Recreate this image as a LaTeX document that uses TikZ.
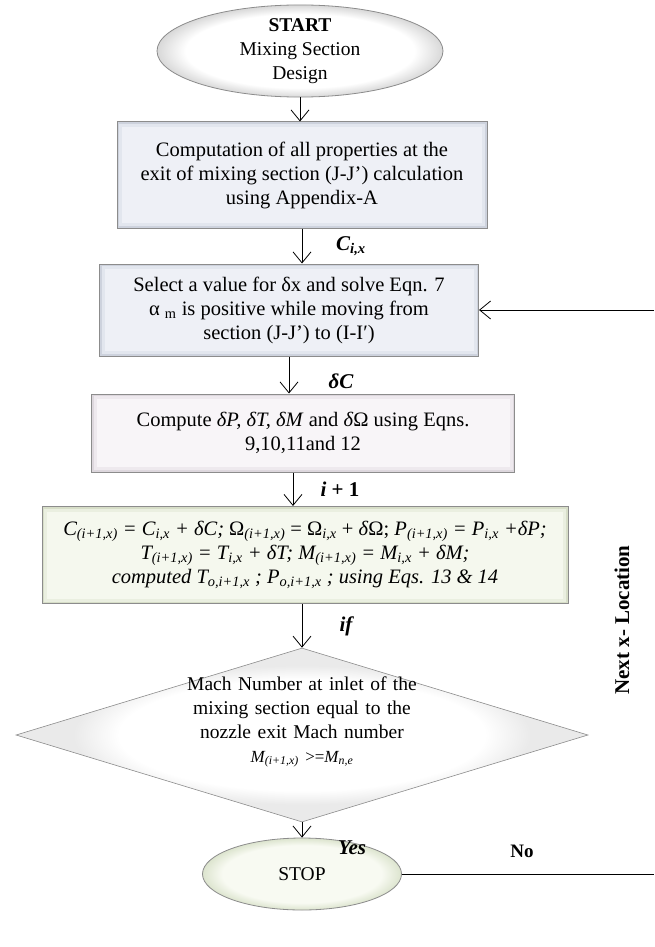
\documentclass[tikz,border=0pt]{standalone}
\usepackage{fontspec}
\setmainfont{Liberation Serif}
\usetikzlibrary{shapes.geometric,arrows.meta}
\definecolor{bluein}{HTML}{EEF0F6}
\definecolor{bluemid}{HTML}{E2E6EE}
\definecolor{blueedge}{HTML}{CDD2DD}
\definecolor{pinkin}{HTML}{F8F5F8}
\definecolor{pinkmid}{HTML}{EEE9EE}
\definecolor{pinkedge}{HTML}{DDD7DD}
\definecolor{greenin}{HTML}{F5F8EE}
\definecolor{greenmid}{HTML}{EAEFE0}
\definecolor{greenedge}{HTML}{D7DEC8}
\definecolor{stopin}{HTML}{F8FAF2}
\definecolor{stopout}{HTML}{DCE4CE}
\definecolor{startout}{HTML}{D8D8D8}
\definecolor{diaedge}{HTML}{EAEAEA}
\definecolor{linegray}{HTML}{8C8C8C}
\pgfdeclareradialshading{startshade}{\pgfpointorigin}{color(0bp)=(white); color(20bp)=(white); color(25bp)=(startout); color(50bp)=(startout)}
\pgfdeclareradialshading{stopshade}{\pgfpointorigin}{color(0bp)=(stopin); color(20bp)=(stopin); color(25bp)=(stopout); color(50bp)=(stopout)}
\pgfdeclareradialshading{diashade}{\pgfpointorigin}{color(0bp)=(white); color(16bp)=(white); color(20bp)=(diaedge); color(50bp)=(diaedge)}
\newcommand{\sbi}[1]{\textsubscript{\itshape #1}}
\newcommand{\bsb}[1]{\textsubscript{\bfseries\itshape #1}}
\tikzset{
  txt/.style={font=\fontsize{20.5}{24}\selectfont, align=center},
  smalltxt/.style={font=\fontsize{19.5}{24}\selectfont, align=center},
  procbox/.style={txt, rectangle, draw=linegray, line width=1pt, inner sep=2pt},
  bevel/.style n args={3}{fill=#1, path picture={
      \fill[#2] ([shift={(2pt,-2pt)}]path picture bounding box.north west) rectangle ([shift={(-2pt,2pt)}]path picture bounding box.south east);
      \fill[#3] ([shift={(5pt,-5pt)}]path picture bounding box.north west) rectangle ([shift={(-5pt,5pt)}]path picture bounding box.south east);}},
  termnode/.style={smalltxt, ellipse, draw=linegray, line width=0.8pt, inner sep=0pt},
  decision/.style={diamond, draw=linegray, line width=0.6pt, inner sep=0pt},
  arr/.style={-{Straight Barb[length=11pt,width=18pt]}, line width=0.8pt, black},
  conn/.style={line width=0.8pt, black},
  lbl/.style={font=\fontsize{21}{24}\selectfont\bfseries\itshape, inner sep=0pt},
}
\begin{document}
\begin{tikzpicture}[x=1pt,y=-1pt]
\useasboundingbox (0,0) rectangle (654,947);
\fill[white] (0,0) rectangle (654,947);

\node[termnode, minimum width=286pt, minimum height=82pt, shading=startshade] (start) at (300,51)
  {\textbf{START}\\Mixing Section\\Design};

\node[procbox, minimum width=370pt, minimum height=106pt, bevel={blueedge}{bluemid}{bluein}] (box1) at (302,175)
  {Computation of all properties at the\\exit of mixing section (J-J’) calculation\\using Appendix-A};

\node[procbox, minimum width=379pt, minimum height=92pt, bevel={blueedge}{bluemid}{bluein}] (box2) at (289,310)
  {Select a value for δx and solve Eqn. 7\\α \textsubscript{m} is positive while moving from\\section (J-J’) to (I-I′)};

\node[procbox, minimum width=423pt, minimum height=78pt, bevel={pinkedge}{pinkmid}{pinkin}] (box3) at (303,433)
  {Compute \textit{δP, δT, δM} and \textit{δ}Ω using Eqns.\\9,10,11and 12};

\node[procbox, minimum width=526pt, minimum height=97pt, bevel={greenedge}{greenmid}{greenin}] (box4) at (305,555)
  {\itshape C\sbi{(i+1,x)} = C\sbi{i,x} + δC; \upshape Ω\sbi{(i+1,x)} = Ω\sbi{i,x} + \textit{δ}Ω; \itshape P\sbi{(i+1,x)} = P\sbi{i,x} +δP;\\
   \itshape T\sbi{(i+1,x)} = T\sbi{i,x} + δT; M\sbi{(i+1,x)} = M\sbi{i,x} + δM;\\
   \itshape computed T\sbi{o,i+1,x} ; P\sbi{o,i+1,x} ; using Eqs. 13 \& 14};

\node[decision, minimum width=572pt, minimum height=174pt, aspect=3.29, shading=diashade] (dec) at (302,735) {};
\node[smalltxt, text width=300pt] (dectext) at (302,722)
  {Mach Number at inlet of the\\mixing section equal to the\\nozzle exit Mach number\\
   {\fontsize{17}{24}\selectfont\itshape M\sbi{(i+1,x)} \upshape>=\itshape M\sbi{n,e}}};

\node[termnode, minimum width=199pt, minimum height=72pt, shading=stopshade] (stop) at (302,874) {STOP};

% connectors
\draw[arr] (start.south) -- (start.south |- box1.north);
\draw[arr] (box1.south) -- (box1.south |- box2.north);
\draw[arr] (box2.south) -- (box2.south |- box3.north);
\draw[arr] ([xshift=-10pt]box3.south) -- ([xshift=-10pt]box3.south |- box4.north);
\draw[arr] (box4.south -| dec.north) -- (dec.north);
\draw[arr] (dec.south) -- (stop.north);

\coordinate (noend) at (654,874);
\coordinate (loopin) at (654,310);
\draw[conn] (stop.east) -- (noend);
\draw[arr] (loopin) -- (box2.east);

% labels
\node[lbl] (lc) at (351,246) {C\bsb{i,x}};
\node[lbl] (ldc) at (341,381) {δC};
\node[lbl] (li) at (340,489) {i\upshape{ + 1}};
\node[lbl] (lif) at (346,626) {if};
\node[lbl] (lyes) at (352,848) {Yes};
\node[lbl, font=\fontsize{19}{22}\selectfont\bfseries] (lno) at (522,851) {No};
\node[lbl, font=\fontsize{21}{24}\selectfont\bfseries, rotate=90] (lnext) at (622,620) {Next x- Location};
\end{tikzpicture}
\end{document}
